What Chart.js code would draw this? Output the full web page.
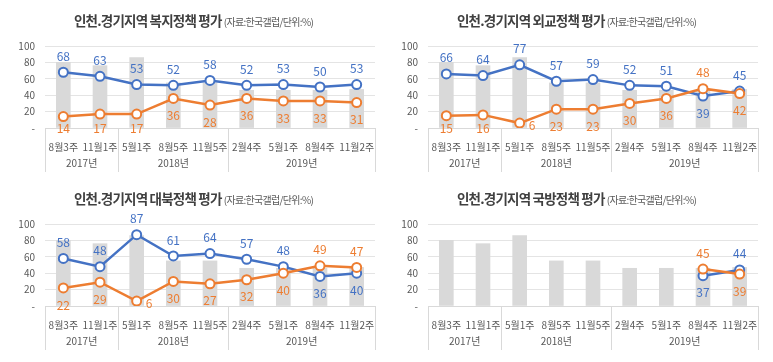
<!DOCTYPE html>
<html>
<head>
<meta charset="utf-8">
<script src="https://cdn.jsdelivr.net/npm/chart.js@4"></script>
<style>
  body { margin: 0; background: #fff; width: 773px; height: 362px; overflow: hidden; position: relative;
         font-family: 'Noto Sans CJK KR', sans-serif; }
  .panel { position: absolute; width: 386px; height: 181px; }
  .panel canvas { position: absolute; left: 0; top: 0; }
  .title { position: absolute; left: 74px; top: 10px; white-space: nowrap; color: #404040;
           font-size: 13.5px; font-weight: bold; letter-spacing: -0.8px; }
  .title small { font-size: 10px; font-weight: normal; color: #595959; letter-spacing: -0.7px; }
</style>
</head>
<body>

<script>
// --- Data ---
const WEEKS = ['8월3주', '11월1주', '5월1주', '8월5주', '11월5주', '2월4주', '5월1주', '8월4주', '11월2주'];
const YEAR_LABELS = ['2017년', '2018년', '2019년'];
const YEAR_SPANS = [2, 3, 4];
const Y_TICKS = [0, 20, 40, 60, 80, 100];

const BAR_VALUES = [80, 76, 86, 55, 55, 46, 46, 46, 47];

const WELFARE_BLUE   = [68, 63, 53, 52, 58, 52, 53, 50, 53];
const WELFARE_ORANGE = [14, 17, 17, 36, 28, 36, 33, 33, 31];

const DIPLOMACY_BLUE   = [66, 64, 77, 57, 59, 52, 51, 39, 45];
const DIPLOMACY_ORANGE = [15, 16, 6, 23, 23, 30, 36, 48, 42];

const NORTH_BLUE   = [58, 48, 87, 61, 64, 57, 48, 36, 40];
const NORTH_ORANGE = [22, 29, 6, 30, 27, 32, 40, 49, 47];

const DEFENSE_BLUE   = [null, null, null, null, null, null, null, 37, 44];
const DEFENSE_ORANGE = [null, null, null, null, null, null, null, 45, 39];

const TITLES = ['복지정책', '외교정책', '대북정책', '국방정책'];
const SOURCE_NOTE = '(자료:한국갤럽/단위:%)';

const PANELS = [
  { left: 0,   top: 0,   topic: TITLES[0], blue: WELFARE_BLUE,   orange: WELFARE_ORANGE },
  { left: 383, top: 0,   topic: TITLES[1], blue: DIPLOMACY_BLUE, orange: DIPLOMACY_ORANGE },
  { left: 0,   top: 178, topic: TITLES[2], blue: NORTH_BLUE,     orange: NORTH_ORANGE },
  { left: 383, top: 178, topic: TITLES[3], blue: DEFENSE_BLUE,   orange: DEFENSE_ORANGE },
];

const FONT = "'Noto Sans CJK KR', sans-serif";
const BLUE = '#4472c4';
const ORANGE = '#ed7d31';
const AXIS_GRAY = '#d9d9d9';
const TEXT_GRAY = '#595959';

// --- Plugins ---
const valueLabels = {
  id: 'valueLabels',
  afterDatasetsDraw(chart) {
    const { ctx, chartArea } = chart;
    ctx.save();
    ctx.font = `12px ${FONT}`;
    ctx.textBaseline = 'middle';
    [1, 2].forEach((di) => {
      const ds = chart.data.datasets[di];
      const other = chart.data.datasets[di === 1 ? 2 : 1];
      const meta = chart.getDatasetMeta(di);
      ds.data.forEach((v, i) => {
        if (v == null) return;
        const pt = meta.data[i];
        const o = other.data[i];
        const above = o == null || v >= o;
        ctx.fillStyle = ds.borderColor;
        if (above) {
          ctx.textAlign = 'center';
          ctx.fillText(v, pt.x, pt.y - 16);
          return;
        }
        // keep labels under the point inside the plot, else move to the right
        const cy = Math.min(pt.y + 17, chartArea.bottom);
        if (cy - pt.y < 10) {
          ctx.textAlign = 'left';
          ctx.fillText(v, pt.x + 9, pt.y + 2);
        } else {
          ctx.textAlign = 'center';
          ctx.fillText(v, pt.x, cy);
        }
      });
    });
    ctx.restore();
  },
};

const yearGroups = {
  id: 'yearGroups',
  afterDraw(chart) {
    const { ctx, chartArea } = chart;
    const x = chart.scales.x;
    const half = (x.getPixelForValue(1) - x.getPixelForValue(0)) / 2;
    const bottom = chartArea.bottom;
    ctx.save();
    ctx.strokeStyle = AXIS_GRAY;
    ctx.lineWidth = 1;
    ctx.fillStyle = TEXT_GRAY;
    ctx.font = `10px ${FONT}`;
    ctx.textAlign = 'center';
    ctx.textBaseline = 'middle';
    let start = 0;
    const edges = [x.getPixelForValue(0) - half];
    YEAR_SPANS.forEach((span, gi) => {
      const end = start + span - 1;
      const left = x.getPixelForValue(start) - half;
      const right = x.getPixelForValue(end) + half;
      edges.push(right);
      ctx.fillText(YEAR_LABELS[gi], (left + right) / 2, bottom + 35);
      start += span;
    });
    edges.forEach((ex) => {
      const px = Math.round(ex) + 0.5;
      ctx.beginPath();
      ctx.moveTo(px, bottom);
      ctx.lineTo(px, bottom + 44);
      ctx.stroke();
    });
    ctx.restore();
  },
};

// --- Build panels ---
function makePanel(p) {
  const div = document.createElement('div');
  div.className = 'panel';
  div.style.left = p.left + 'px';
  div.style.top = p.top + 'px';
  const canvas = document.createElement('canvas');
  canvas.width = 386;
  canvas.height = 181;
  div.appendChild(canvas);
  const title = document.createElement('div');
  title.className = 'title';
  title.innerHTML = `인천.경기지역 ${p.topic} 평가 <small>${SOURCE_NOTE}</small>`;
  div.appendChild(title);
  document.body.appendChild(div);

  const lineStyle = (color) => ({
    type: 'line',
    borderColor: color,
    borderWidth: 2.5,
    pointRadius: 4.5,
    pointBorderWidth: 2,
    pointBackgroundColor: '#fff',
    pointBorderColor: color,
    tension: 0,
    spanGaps: false,
  });

  new Chart(canvas, {
    data: {
      labels: WEEKS,
      datasets: [
        { type: 'bar', data: BAR_VALUES, backgroundColor: AXIS_GRAY, barThickness: 14, order: 3 },
        { ...lineStyle(BLUE), data: p.blue, order: 2 },
        { ...lineStyle(ORANGE), data: p.orange, order: 1 },
      ],
    },
    options: {
      responsive: false,
      animation: false,
      devicePixelRatio: 1,
      layout: { padding: { top: 46, right: 11, left: 0, bottom: 0 } },
      plugins: { legend: { display: false }, tooltip: { enabled: false } },
      scales: {
        x: {
          offset: true,
          grid: { display: false },
          border: { display: true, color: AXIS_GRAY },
          ticks: { color: TEXT_GRAY, font: { family: FONT, size: 10 }, padding: 5, maxRotation: 0, autoSkip: false },
          afterFit: (s) => { s.height = 53; },
        },
        y: {
          min: 0,
          max: 100,
          afterBuildTicks: (s) => { s.ticks = Y_TICKS.map((v) => ({ value: v })); },
          grid: { color: '#e4e4e4', drawTicks: false },
          border: { display: false },
          ticks: {
            color: TEXT_GRAY,
            font: { family: FONT, size: 10 },
            padding: 10,
            callback: (v) => (v === 0 ? '-' : v),
          },
          afterFit: (s) => { s.width = 45; },
        },
      },
    },
    plugins: [valueLabels, yearGroups],
  });
}

PANELS.forEach(makePanel);
</script>
</body>
</html>
